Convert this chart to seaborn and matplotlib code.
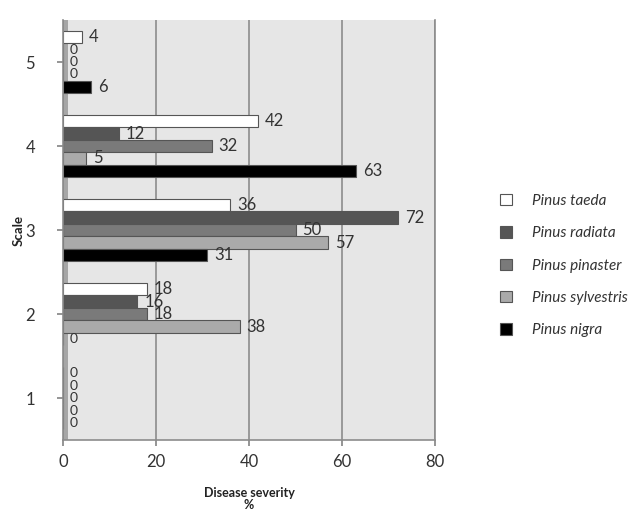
import matplotlib
matplotlib.use("Agg")
import matplotlib.pyplot as plt
import seaborn as sns
import pandas as pd
from matplotlib.patches import Patch

scales = ["5", "4", "3", "2", "1"]
species = ["Pinus taeda", "Pinus radiata", "Pinus pinaster", "Pinus sylvestris", "Pinus nigra"]
taeda = [4, 42, 36, 18, 0]
radiata = [0, 12, 72, 16, 0]
pinaster = [0, 32, 50, 18, 0]
sylvestris = [0, 5, 57, 38, 0]
nigra = [6, 63, 31, 0, 0]
xticks = [0, 20, 40, 60, 80]

colors = ["#ffffff", "#555555", "#7a7a7a", "#aaaaaa", "#000000"]

rows = []
for sp, vals in zip(species, [taeda, radiata, pinaster, sylvestris, nigra]):
    for sc, v in zip(scales, vals):
        rows.append({"Scale": sc, "Species": sp, "Value": v})
df = pd.DataFrame(rows)

sns.set_theme(style="white")
plt.rcParams["font.family"] = ["Lato", "DejaVu Sans"]

fig = plt.figure(figsize=(6.36, 5.13), dpi=100)
ax = fig.add_axes([0.099, 0.142, 0.585, 0.819])
ax.set_facecolor("#e6e6e6")
ax.axvspan(0, 1.0, color="#a6a6a6", zorder=0.5, lw=0)

sns.barplot(data=df, x="Value", y="Scale", hue="Species", order=scales,
            hue_order=species, palette=colors, orient="h", width=0.74,
            edgecolor="#555555", linewidth=0.8, ax=ax, legend=False)

for cont in ax.containers:
    texts = ax.bar_label(cont, labels=[f"{int(v)}" for v in cont.datavalues],
                         padding=5, fontsize=12, color="#333333")
    for t, v in zip(texts, cont.datavalues):
        if v == 0:
            t.set_fontsize(10)

ax.set_xlim(0, 80)
ax.set_xticks(xticks)
ax.set_xticklabels([str(t) for t in xticks], fontsize=12, color="#333333")
ax.tick_params(axis="y", labelsize=12, labelcolor="#333333", length=4, left=True, color="#888888", pad=16)
ax.tick_params(axis="x", length=4, bottom=True, color="#888888", pad=6)
ax.grid(axis="x", color="#8c8c8c", linewidth=1.2)
ax.set_axisbelow(True)
ax.spines["top"].set_visible(False)
for s in ["left", "bottom", "right"]:
    ax.spines[s].set_color("#8c8c8c")
    ax.spines[s].set_linewidth(1.2)

ax.set_ylabel("Scale", fontsize=9.5, fontweight="bold", color="#222222", labelpad=1)
ax.set_xlabel("Disease severity\n%", fontsize=9, fontweight="bold", color="#222222", labelpad=12, linespacing=1.0)

handles = [Patch(facecolor=c, edgecolor="#555555", linewidth=0.8) for c in colors]
leg = fig.legend(handles, species, loc="center left", bbox_to_anchor=(0.765, 0.482),
                 frameon=False, handlelength=0.75, handleheight=0.75,
                 labelspacing=1.2, handletextpad=1.3, prop={"style": "italic", "size": 11})
for t in leg.get_texts():
    t.set_color("#333333")

fig.savefig("out.png", dpi=100)
